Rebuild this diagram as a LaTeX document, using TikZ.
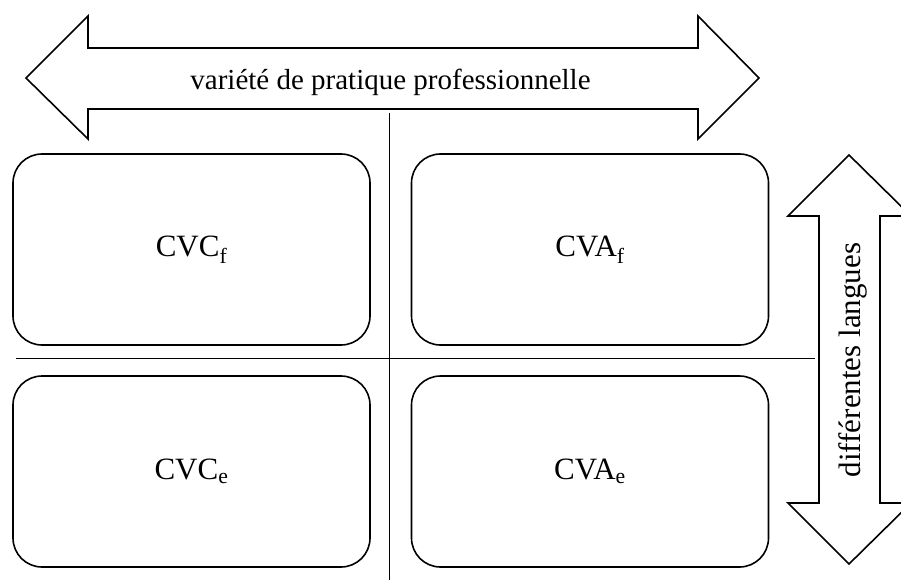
\documentclass[tikz,border=0pt]{standalone}
\usepackage{fontspec}
\setmainfont{Liberation Serif}
\begin{document}
\begin{tikzpicture}[x=1pt,y=-1pt,
  box/.style={draw,line width=1.6pt,rounded corners=29pt,minimum width=357pt,minimum height=191pt,inner sep=0pt,outer sep=0pt,font=\fontsize{31}{34}\selectfont},
  bigarrow/.style={draw,line width=1.6pt,line join=miter},
  thinline/.style={line width=0.9pt},
  lbl/.style={font=\fontsize{29}{32}\selectfont,inner sep=0pt}]
\useasboundingbox (0,0) rectangle (901,580);
\clip (0,0) rectangle (901,580);
% guide lines
\coordinate (vt) at (389,113);
\coordinate (vb) at (389,580);
\coordinate (hl) at (16,358);
\coordinate (hr) at (815,358);
\draw[thinline] (vt) -- (vb);
\draw[thinline] (hl) -- (hr);
% horizontal double arrow
\draw[bigarrow] (26,78) -- (88,16) -- (88,48) -- (698,48) -- (698,16) -- (759,78)
  -- (698,139) -- (698,109) -- (88,109) -- (88,139) -- cycle;
\node[lbl,anchor=base] (hlabel) at (390.5,90) {variété de pratique professionnelle};
% vertical double arrow
\draw[bigarrow] (849,155) -- (911,216) -- (880,216) -- (880,503) -- (911,503) -- (849,564)
  -- (788,503) -- (819,503) -- (819,216) -- (788,216) -- cycle;
\node[lbl,anchor=base,rotate=90,font=\fontsize{31}{34}\selectfont] (vlabel) at (860,360) {différentes langues};
% boxes
\node[box] (cvcf) at (191.5,249.5) {CVC\textsubscript{f}};
\node[box] (cvaf) at (590,249.5) {CVA\textsubscript{f}};
\node[box] (cvce) at (191.5,471.5) {CVC\textsubscript{e}};
\node[box] (cvae) at (590,471.5) {CVA\textsubscript{e}};
\end{tikzpicture}
\end{document}
